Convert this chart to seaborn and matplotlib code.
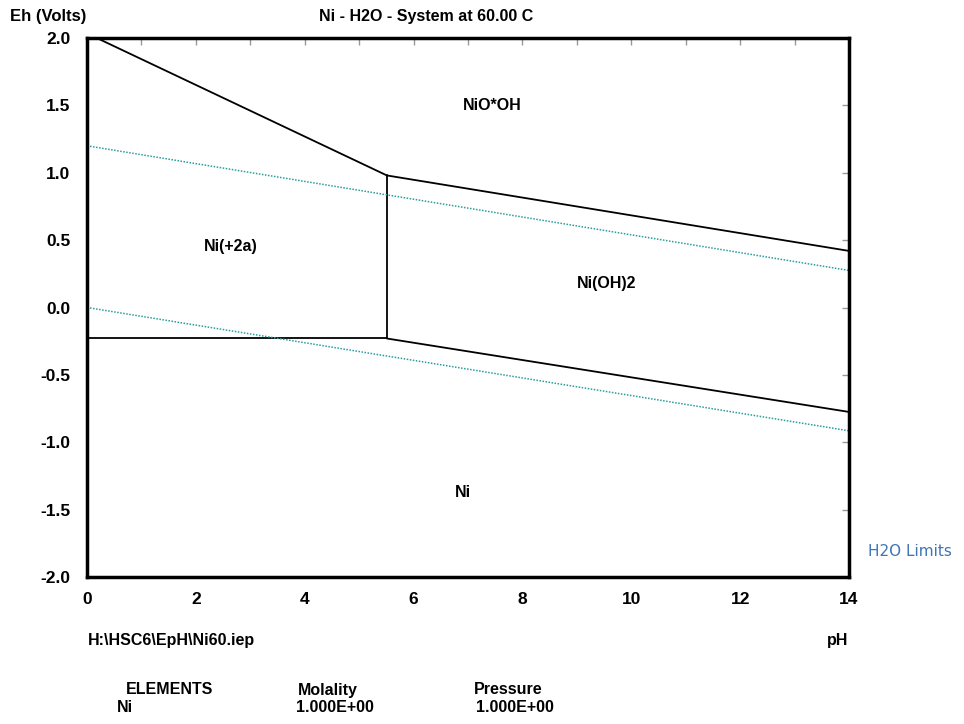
import matplotlib
matplotlib.use("Agg")
import matplotlib.pyplot as plt
import seaborn as sns
import pandas as pd
import numpy as np

# Boundary segments (pH, Eh)
seg_names = ["NiOOH/Ni2+", "NiOOH/Ni(OH)2", "Ni2+/Ni(OH)2", "Ni2+/Ni", "Ni(OH)2/Ni"]
seg_ph = [[0.18, 5.51], [5.51, 14.0], [5.51, 5.51], [0.0, 5.51], [5.51, 14.0]]
seg_eh = [[2.0, 0.98], [0.98, 0.42], [0.98, -0.23], [-0.23, -0.23], [-0.23, -0.775]]

# Water stability limits
water_ph = [0.0, 14.0]
water_upper = [1.20, 0.275]
water_lower = [0.0, -0.915]

# Region labels
region_names = ["NiO*OH", "Ni(+2a)", "Ni(OH)2", "Ni"]
region_ph = [7.45, 2.65, 9.55, 6.9]
region_eh = [1.5, 0.45, 0.18, -1.37]

x_ticks = [0, 2, 4, 6, 8, 10, 12, 14]
y_ticks = [-2.0, -1.5, -1.0, -0.5, 0.0, 0.5, 1.0, 1.5, 2.0]

sns.set_style("white")
plt.rcParams['font.family'] = ['Liberation Sans', 'DejaVu Sans']
plt.rcParams['text.color'] = 'black'
plt.rcParams['xtick.labelcolor'] = 'black'
plt.rcParams['ytick.labelcolor'] = 'black'

fig = plt.figure(figsize=(9.64, 7.24), dpi=100)
ax = fig.add_axes([87/964, 1-577/724, (849-87)/964, (577-38)/724])

teal = "#2a9d9d"
for name, px, py in zip(seg_names, seg_ph, seg_eh):
    df = pd.DataFrame({"pH": px, "Eh": py})
    sns.lineplot(data=df, x="pH", y="Eh", ax=ax, color="black", lw=1.3,
                 sort=False, estimator=None)
for wy in (water_upper, water_lower):
    df = pd.DataFrame({"pH": water_ph, "Eh": wy})
    sns.lineplot(data=df, x="pH", y="Eh", ax=ax, color=teal, lw=1.1,
                 linestyle=(0, (1, 1)), sort=False, estimator=None)

FS = 11.5
for n, px, py in zip(region_names, region_ph, region_eh):
    ax.text(px, py, n, ha="center", va="center", fontsize=FS, fontweight="bold")

ax.set_xlim(0, 14)
ax.set_ylim(-2.0, 2.0)
ax.set_xticks(x_ticks)
ax.set_xticks(np.arange(0, 15, 1), minor=True)
ax.set_xticklabels([str(t) for t in x_ticks], fontsize=12.5, fontweight="bold")
ax.set_yticks(y_ticks)
ax.set_yticklabels([f"{t:.1f}" for t in y_ticks], fontsize=12.5, fontweight="bold")
ax.tick_params(axis="both", which="both", direction="in", top=True, right=True,
               color="#999999", length=5, width=1)
ax.tick_params(axis="x", which="major", pad=11)
ax.tick_params(axis="y", which="major", pad=12)
ax.set_xlabel("")
ax.set_ylabel("")
for s in ax.spines.values():
    s.set_linewidth(2.5)
    s.set_color("black")

def ft(x, y, s, **kw):
    fig.text(x/964, 1-y/724, s, **kw)

ft(426, 16, "Ni - H2O - System at 60.00 C", ha="center", va="center",
   fontsize=FS, fontweight="bold")
ft(10, 17, "Eh (Volts)", ha="left", va="center", fontsize=12, fontweight="bold")
ft(88, 640, "H:\\HSC6\\EpH\\Ni60.iep", ha="left", va="center", fontsize=FS, fontweight="bold")
ft(838, 640, "pH", ha="center", va="center", fontsize=FS, fontweight="bold")
ft(868, 551, "H2O Limits", ha="left", va="center", fontsize=11, color="#3f74b5",
   family=["DejaVu Sans"])
ft(170, 690, "ELEMENTS", ha="center", va="center", fontsize=FS, fontweight="bold")
ft(328, 690, "Molality", ha="center", va="center", fontsize=FS, fontweight="bold")
ft(508, 690, "Pressure", ha="center", va="center", fontsize=FS, fontweight="bold")
ft(117, 707, "Ni", ha="left", va="center", fontsize=FS, fontweight="bold")
ft(296, 707, "1.000E+00", ha="left", va="center", fontsize=FS, fontweight="bold")
ft(476, 707, "1.000E+00", ha="left", va="center", fontsize=FS, fontweight="bold")

fig.savefig("out.png", dpi=100)
